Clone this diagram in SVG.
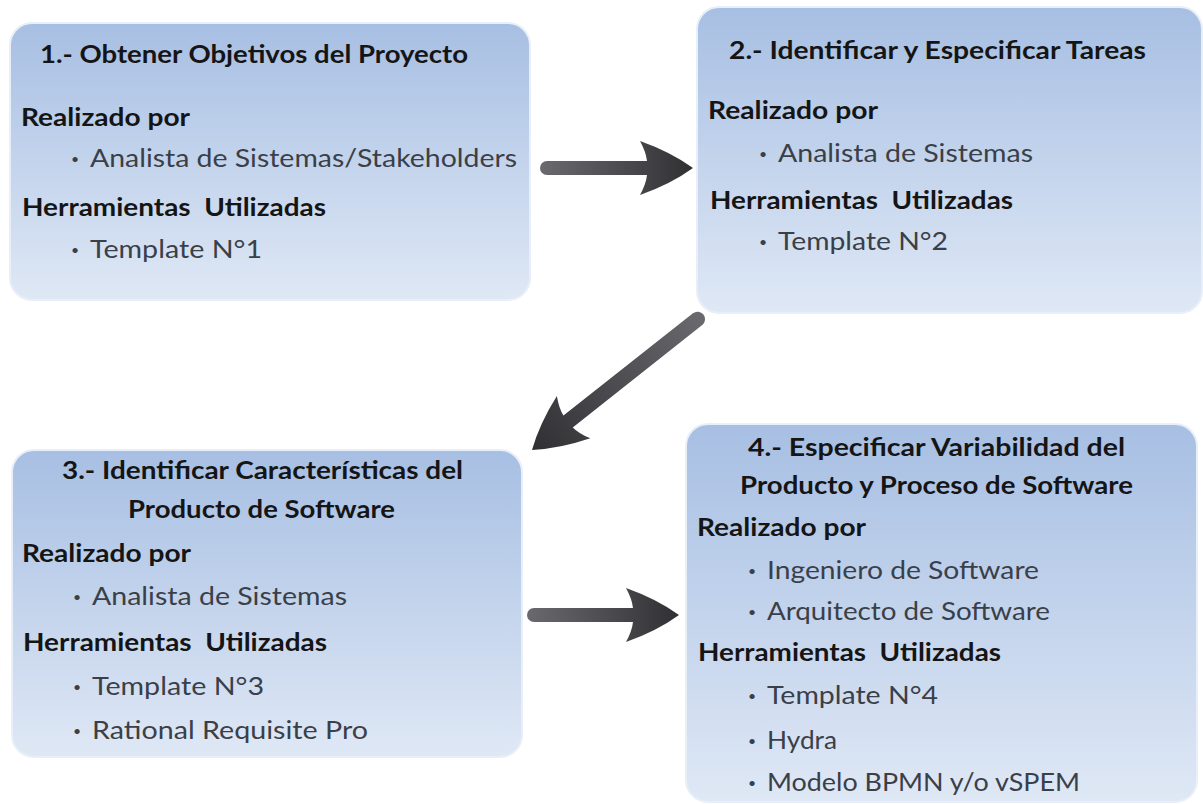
<svg xmlns="http://www.w3.org/2000/svg" width="1203" height="804" viewBox="0 0 1203 804">
<defs>
<linearGradient id="boxg" x1="0" y1="0" x2="0" y2="1">
<stop offset="0" stop-color="#a7bfe3"/>
<stop offset="1" stop-color="#dfe8f5"/>
</linearGradient>
<linearGradient id="arrg" x1="0" y1="0" x2="1" y2="0">
<stop offset="0" stop-color="#6a6a6e"/>
<stop offset="0.6" stop-color="#48484c"/>
<stop offset="1" stop-color="#303033"/>
</linearGradient>
</defs>
<style>
.box{fill:url(#boxg);stroke:#e9eff8;stroke-width:2}
.h{font-family:Lato,"Noto Sans",sans-serif;font-weight:bold;font-size:25px;fill:#151515;white-space:pre}
.b{font-family:Lato,"Noto Sans",sans-serif;font-size:25.5px;fill:#3a3f48}
.d{font-family:Lato,"Noto Sans",sans-serif;font-size:14px;fill:#3a3f48}
.arr{fill:url(#arrg)}
</style>
<rect width="1203" height="804" fill="#ffffff"/>

<g id="node1">
<rect class="box" x="10" y="23" width="520" height="277" rx="22"/>
<text class="h" x="40" y="63" textLength="428" lengthAdjust="spacingAndGlyphs">1.- Obtener Objetivos del Proyecto</text>
<text class="h" x="21" y="126" textLength="169" lengthAdjust="spacingAndGlyphs">Realizado por</text>
<text class="d" x="71" y="164">•</text>
<text class="b" x="90" y="167" textLength="427" lengthAdjust="spacingAndGlyphs">Analista de Sistemas/Stakeholders</text>
<text class="h" x="22" y="216" textLength="304" lengthAdjust="spacingAndGlyphs" xml:space="preserve">Herramientas  Utilizadas</text>
<text class="d" x="71" y="255">•</text>
<text class="b" x="90" y="258" textLength="172" lengthAdjust="spacingAndGlyphs">Template N°1</text>
</g>

<g id="node2">
<rect class="box" x="697" y="7" width="505" height="306" rx="22"/>
<text class="h" x="729" y="59" textLength="417" lengthAdjust="spacingAndGlyphs">2.- Identificar y Especificar Tareas</text>
<text class="h" x="708" y="119" textLength="170" lengthAdjust="spacingAndGlyphs">Realizado por</text>
<text class="d" x="759" y="159">•</text>
<text class="b" x="778" y="162" textLength="255" lengthAdjust="spacingAndGlyphs">Analista de Sistemas</text>
<text class="h" x="710" y="209" textLength="303" lengthAdjust="spacingAndGlyphs" xml:space="preserve">Herramientas  Utilizadas</text>
<text class="d" x="759" y="247">•</text>
<text class="b" x="778" y="250" textLength="170" lengthAdjust="spacingAndGlyphs">Template N°2</text>
</g>

<g id="node3">
<rect class="box" x="12" y="450" width="510" height="307" rx="22"/>
<text class="h" x="62" y="479" textLength="401" lengthAdjust="spacingAndGlyphs">3.- Identificar Características del</text>
<text class="h" x="128" y="518" textLength="267" lengthAdjust="spacingAndGlyphs">Producto de Software</text>
<text class="h" x="22" y="562" textLength="169" lengthAdjust="spacingAndGlyphs">Realizado por</text>
<text class="d" x="73" y="602">•</text>
<text class="b" x="92" y="605" textLength="255" lengthAdjust="spacingAndGlyphs">Analista de Sistemas</text>
<text class="h" x="23" y="651" textLength="304" lengthAdjust="spacingAndGlyphs" xml:space="preserve">Herramientas  Utilizadas</text>
<text class="d" x="73" y="692">•</text>
<text class="b" x="92" y="695" textLength="172" lengthAdjust="spacingAndGlyphs">Template N°3</text>
<text class="d" x="73" y="736">•</text>
<text class="b" x="92" y="739" textLength="276" lengthAdjust="spacingAndGlyphs">Rational Requisite Pro</text>
</g>

<g id="node4">
<rect class="box" x="686" y="424" width="511" height="378" rx="22"/>
<text class="h" x="748" y="456" textLength="377" lengthAdjust="spacingAndGlyphs">4.- Especificar Variabilidad del</text>
<text class="h" x="740" y="494" textLength="393" lengthAdjust="spacingAndGlyphs">Producto y Proceso de Software</text>
<text class="h" x="697" y="536" textLength="169" lengthAdjust="spacingAndGlyphs">Realizado por</text>
<text class="d" x="748" y="576">•</text>
<text class="b" x="767" y="579" textLength="272" lengthAdjust="spacingAndGlyphs">Ingeniero de Software</text>
<text class="d" x="748" y="617">•</text>
<text class="b" x="767" y="620" textLength="283" lengthAdjust="spacingAndGlyphs">Arquitecto de Software</text>
<text class="h" x="698" y="661" textLength="303" lengthAdjust="spacingAndGlyphs" xml:space="preserve">Herramientas  Utilizadas</text>
<text class="d" x="748" y="701">•</text>
<text class="b" x="767" y="704" textLength="171" lengthAdjust="spacingAndGlyphs">Template N°4</text>
<text class="d" x="748" y="746">•</text>
<text class="b" x="767" y="749" textLength="70" lengthAdjust="spacingAndGlyphs">Hydra</text>
<text class="d" x="748" y="788">•</text>
<text class="b" x="767" y="791" textLength="313" lengthAdjust="spacingAndGlyphs">Modelo BPMN y/o vSPEM</text>
</g>

<g id="connectors">
<path class="arr" transform="translate(693,168)" d="M-53,-27 Q-47,-16 -46,-7 L-146,-7 A7,7 0 0 0 -146,7 L-46,7 Q-47,16 -53,27 Q-22,16 0,0 Q-22,-16 -53,-27 Z"/>
<path class="arr" transform="translate(532,450) rotate(141.7)" d="M-53,-27 Q-47,-16 -46,-7.5 L-211,-7.5 A7.5,7.5 0 0 0 -211,7.5 L-46,7.5 Q-47,16 -53,27 Q-22,16 0,0 Q-22,-16 -53,-27 Z"/>
<path class="arr" transform="translate(679,615)" d="M-53,-27 Q-47,-16 -46,-7 L-145,-7 A7,7 0 0 0 -145,7 L-46,7 Q-47,16 -53,27 Q-22,16 0,0 Q-22,-16 -53,-27 Z"/>
</g>
</svg>
